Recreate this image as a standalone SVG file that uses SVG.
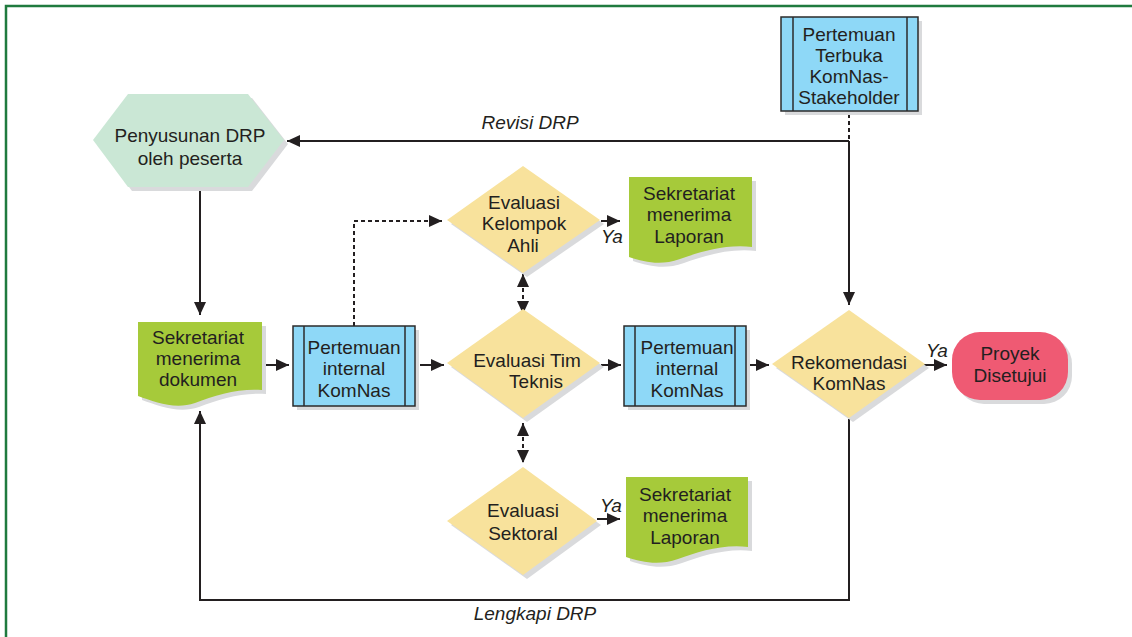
<svg xmlns="http://www.w3.org/2000/svg" width="1132" height="637" viewBox="0 0 1132 637">
<defs>
<style>
text{font-family:"Liberation Sans",Arial,sans-serif;font-size:19px;fill:#231f20;text-anchor:middle}
.it{font-style:italic}
.shadow{fill:#d9dadc}
.hex{fill:#cae7d5}
.doc{fill:#a6ca3a}
.dia{fill:#f8e29c}
.blue{fill:#8ed8f7;stroke:#2b2b2b;stroke-width:1.5}
.inner{stroke:#2b2b2b;stroke-width:1.5}
.red{fill:#ef5a73}
.conn{fill:none;stroke:#231f20;stroke-width:2}
.dash{stroke-dasharray:4 3}
</style>
<marker id="ah" markerUnits="userSpaceOnUse" markerWidth="14" markerHeight="12" refX="13" refY="6" orient="auto-start-reverse" viewBox="0 0 14 12">
<path d="M0,0 L13,6 L0,12 Z" fill="#231f20"/>
</marker>
</defs>
<rect width="1132" height="637" fill="#ffffff"/>
<path d="M6,640 V6 H1135" fill="none" stroke="#1f7a3e" stroke-width="2.5"/>

<g id="connectors">
<path class="conn" d="M849,141 H287" marker-end="url(#ah)"/>
<path class="conn dash" d="M849,114 V141"/>
<path class="conn" d="M849,141 V305" marker-end="url(#ah)"/>
<path class="conn" d="M200,187 V315" marker-end="url(#ah)"/>
<path class="conn" d="M265,365 H289" marker-end="url(#ah)"/>
<path class="conn" d="M420,365 H444" marker-end="url(#ah)"/>
<path class="conn" d="M601,365 H621" marker-end="url(#ah)"/>
<path class="conn" d="M748,365 H769" marker-end="url(#ah)"/>
<path class="conn" d="M922,365 H947" marker-end="url(#ah)"/>
<path class="conn dash" d="M354,326 V221 H442" marker-end="url(#ah)"/>
<path class="conn dash" d="M523,274 V314" marker-start="url(#ah)" marker-end="url(#ah)"/>
<path class="conn dash" d="M523,423 V463" marker-start="url(#ah)" marker-end="url(#ah)"/>
<path class="conn" d="M601,221 H620" marker-end="url(#ah)"/>
<path class="conn" d="M597,519 H620" marker-end="url(#ah)"/>
<path class="conn" d="M849,419 V600 H200 V411" marker-end="url(#ah)"/>
<text class="it" x="530" y="129">Revisi DRP</text>
<text class="it" x="535" y="620">Lengkapi DRP</text>
<text class="it" x="937" y="357">Ya</text>
<text class="it" x="612" y="243">Ya</text>
<text class="it" x="611" y="512">Ya</text>
</g>

<g id="penyusunan">
<polygon class="shadow" points="97,144 132,98 252,98 288,144 252,191 132,191"/>
<polygon class="hex" points="93,140 128,94 248,94 284,140 248,187 128,187"/>
<text x="190" y="142">Penyusunan DRP</text>
<text x="190" y="165">oleh peserta</text>
</g>

<g id="terbuka">
<rect class="shadow" x="785" y="21" width="137" height="94"/>
<rect class="blue" x="781" y="17" width="137" height="94"/>
<line class="inner" x1="793" y1="17" x2="793" y2="111"/>
<line class="inner" x1="907" y1="17" x2="907" y2="111"/>
<text x="849" y="41">Pertemuan</text>
<text x="849" y="62">Terbuka</text>
<text x="849" y="83">KomNas-</text>
<text x="849" y="104">Stakeholder</text>
</g>

<g id="sek-dokumen">
<path class="shadow" d="M142,326 H266 V394 C244,392 219,399 199,407 C179,414 159,406 142,400 Z"/>
<path class="doc" d="M138,322 H262 V390 C240,388 215,395 195,403 C175,410 155,402 138,396 Z"/>
<text x="198" y="344">Sekretariat</text>
<text x="198" y="365">menerima</text>
<text x="198" y="386">dokumen</text>
</g>

<g id="internal1">
<rect class="shadow" x="297" y="330" width="122" height="80"/>
<rect class="blue" x="293" y="326" width="122" height="80"/>
<line class="inner" x1="304" y1="326" x2="304" y2="406"/>
<line class="inner" x1="405" y1="326" x2="405" y2="406"/>
<text x="354" y="354">Pertemuan</text>
<text x="354" y="375">internal</text>
<text x="354" y="397">KomNas</text>
</g>

<g id="eval-ahli">
<polygon class="shadow" points="451,224 527,170 604,224 527,277"/>
<polygon class="dia" points="447,220 523,166 600,220 523,273"/>
<text x="524" y="209">Evaluasi</text>
<text x="524" y="230">Kelompok</text>
<text x="523" y="252">Ahli</text>
</g>

<g id="sek-laporan1">
<path class="shadow" d="M633,181 H756 V251 C729,248 704,256 684,263 C664,270 649,266 633,261 Z"/>
<path class="doc" d="M629,177 H752 V247 C725,244 700,252 680,259 C660,266 645,262 629,257 Z"/>
<text x="689" y="200">Sekretariat</text>
<text x="689" y="221">menerima</text>
<text x="689" y="243">Laporan</text>
</g>

<g id="eval-teknis">
<polygon class="shadow" points="451,367 527,313 604,367 527,422"/>
<polygon class="dia" points="447,363 523,309 600,363 523,418"/>
<text x="527" y="367">Evaluasi Tim</text>
<text x="536" y="388">Teknis</text>
</g>

<g id="internal2">
<rect class="shadow" x="628" y="330" width="122" height="80"/>
<rect class="blue" x="624" y="326" width="122" height="80"/>
<line class="inner" x1="635" y1="326" x2="635" y2="406"/>
<line class="inner" x1="735" y1="326" x2="735" y2="406"/>
<text x="687" y="354">Pertemuan</text>
<text x="687" y="375">internal</text>
<text x="687" y="397">KomNas</text>
</g>

<g id="rekomendasi">
<polygon class="shadow" points="776,368 853,314 929,368 853,422"/>
<polygon class="dia" points="772,364 849,310 925,364 849,418"/>
<text x="849" y="369">Rekomendasi</text>
<text x="849" y="390">KomNas</text>
</g>

<g id="proyek">
<rect class="shadow" x="956" y="336" width="116" height="68" rx="28"/>
<rect class="red" x="952" y="332" width="116" height="68" rx="28"/>
<text x="1010" y="360">Proyek</text>
<text x="1010" y="382">Disetujui</text>
</g>

<g id="eval-sektoral">
<polygon class="shadow" points="451,525 527,471 601,525 527,579"/>
<polygon class="dia" points="447,521 523,467 597,521 523,575"/>
<text x="523" y="517">Evaluasi</text>
<text x="523" y="540">Sektoral</text>
</g>

<g id="sek-laporan2">
<path class="shadow" d="M630,481 H752 V551 C726,548 702,556 682,563 C662,570 646,566 630,561 Z"/>
<path class="doc" d="M626,477 H748 V547 C722,544 698,552 678,559 C658,566 642,562 626,557 Z"/>
<text x="685" y="501">Sekretariat</text>
<text x="685" y="522">menerima</text>
<text x="685" y="544">Laporan</text>
</g>
</svg>
